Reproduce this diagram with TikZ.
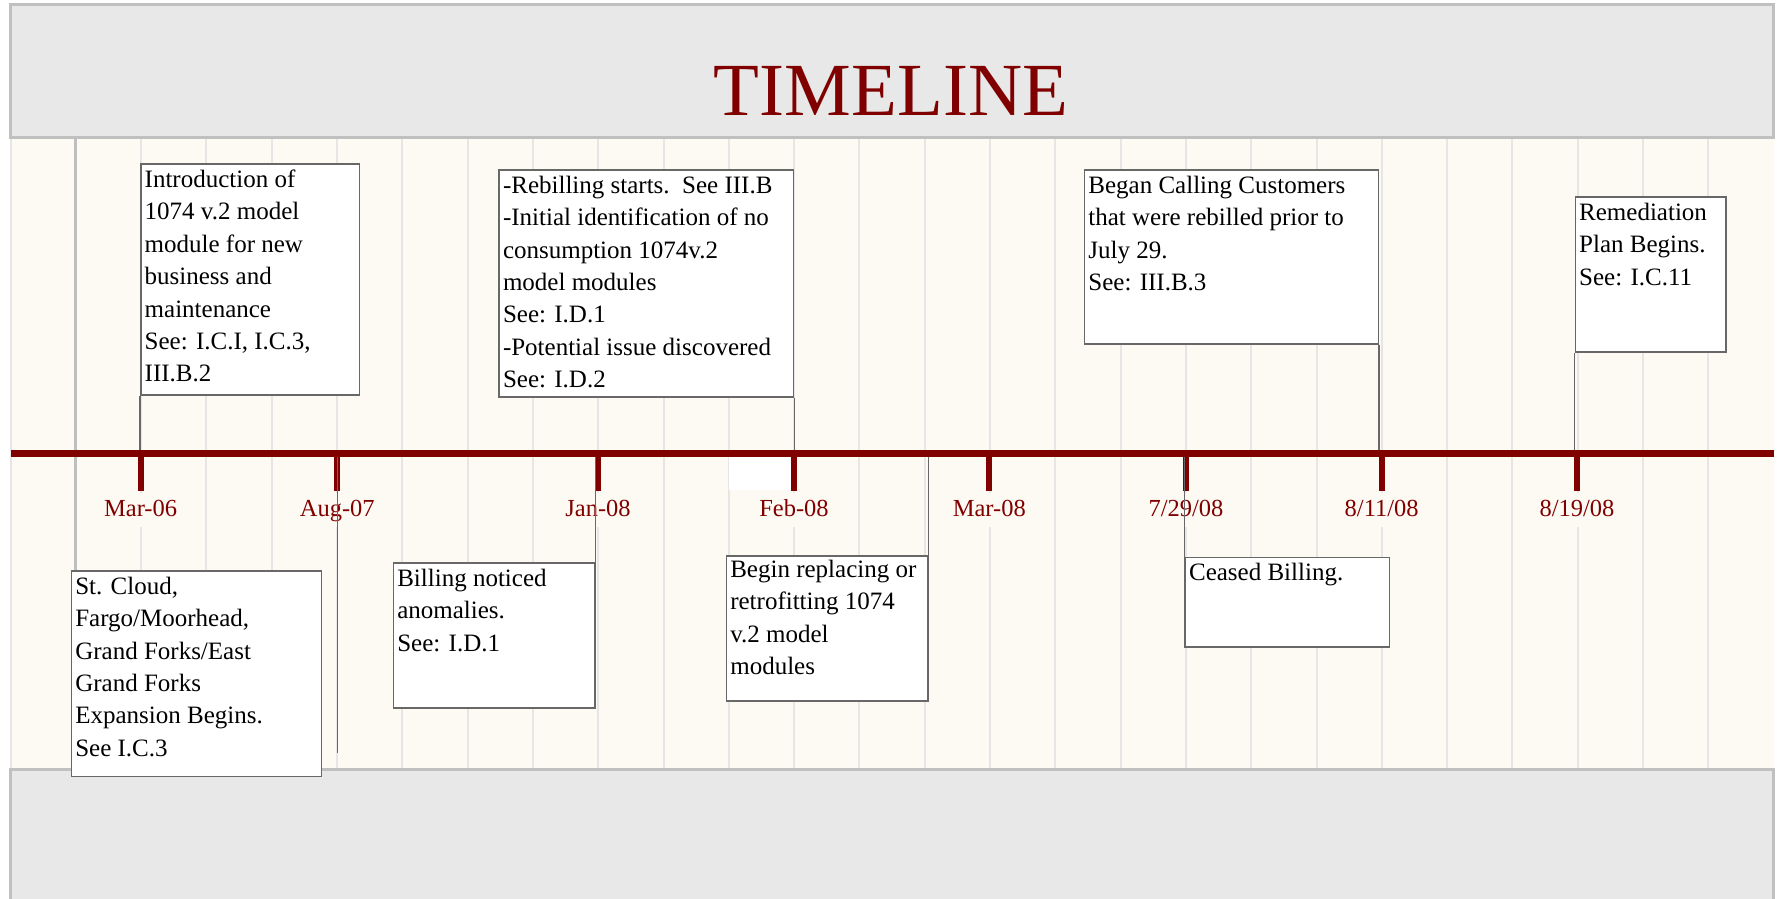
\documentclass[tikz,border=0pt]{standalone}
\usepackage{fontspec}
\setmainfont{Liberation Serif}
\definecolor{myred}{HTML}{800000}
\definecolor{cream}{HTML}{FDFAF3}
\definecolor{hdrgray}{HTML}{E8E8E8}
\definecolor{hdrborder}{HTML}{C0C0C0}
\definecolor{stripegray}{HTML}{E6E6E6}
\definecolor{darkstripe}{HTML}{BFBFBF}
\definecolor{boxgray}{HTML}{686868}
\begin{document}
\begin{tikzpicture}[x=1pt,y=-1pt,
  box/.style={draw=boxgray, line width=1.5pt, fill=white, inner sep=0pt, anchor=north west},
  boxtext/.style={anchor=north west, inner sep=0pt, align=left, font=\fontsize{25}{32.4}\selectfont},
  datelabel/.style={fill=cream, text=myred, font=\fontsize{24.5}{28}\selectfont, minimum width=100pt, minimum height=34pt, inner sep=0pt, text height=17pt, text depth=5pt},
  conn/.style={draw=boxgray, line width=1.5pt},
  stripe/.style={draw=stripegray, line width=2pt},
  tickmark/.style={draw=myred, line width=6pt},
  frameline/.style={draw=hdrborder, line width=3pt}]
\useasboundingbox (0,0) rectangle (1782,899);
% cream band
\fill[cream] (10.5,137) rectangle (1773.5,769);
% stripes
\foreach \k in {0,2,3,...,26} {
  \draw[stripe] (10.5+65.3*\k,137) -- (10.5+65.3*\k,769);
}
\draw[draw=darkstripe, line width=3pt] (75.8,137) -- (75.8,769);
% header and footer
\draw[frameline, fill=hdrgray] (10.5,5) rectangle (1773.5,137);
\fill[hdrgray] (10.5,769) rectangle (1773.5,905);
\draw[frameline] (10.5,905) -- (10.5,769) -- (1773.5,769) -- (1773.5,905);
% title
\node[text=myred, font=\fontsize{75}{80}\selectfont, anchor=base, inner sep=0pt] (title) at (891,115) {TIMELINE};
% white patch
\fill[white] (729,456) rectangle (790.7,490);
% timeline bar
\coordinate (barL) at (10.5,453.3);
\coordinate (barR) at (1773.5,453.3);
\coordinate (bartop) at (0,450);
\coordinate (barbot) at (0,456.7);
\draw[draw=myred, line width=6.7pt] (barL) -- (barR);
% ticks
\foreach \n/\x in {1/140.6,2/337.3,3/598,4/794,5/989.3,6/1186,7/1381.7,8/1577} {
  \coordinate (k\n) at (\x,453.3);
  \draw[tickmark] (k\n) -- (\x,491);
}
% date labels
\node[datelabel] (l1) at (140.6,510) {Mar-06};
\node[datelabel] (l2) at (337.3,510) {Aug-07};
\node[datelabel] (l3) at (598,510) {Jan-08};
\node[datelabel] (l4) at (794,510) {Feb-08};
\node[datelabel] (l5) at (989.3,510) {Mar-08};
\node[datelabel] (l6) at (1186,510) {7/29/08};
\node[datelabel] (l7) at (1381.7,510) {8/11/08};
\node[datelabel] (l8) at (1577,510) {8/19/08};
% boxes
\node[box, minimum width=218.8pt, minimum height=230.7pt] (A) at (140,163.3) {};
\node[box, minimum width=294.5pt, minimum height=227pt] (B) at (498.3,169) {};
\node[box, minimum width=294pt, minimum height=174pt] (C) at (1083.7,169) {};
\node[box, minimum width=150.7pt, minimum height=155pt] (D) at (1574.5,196) {};
\coordinate (eend) at (337.5,752.7);
% connectors
\draw[conn] (A.south west) -- (A.south west |- bartop);
\draw[conn] (B.south east) -- (B.south east |- bartop);
\draw[conn] (C.south east) -- (C.south east |- bartop);
\draw[conn] (D.south west) -- (D.south west |- bartop);
\draw[conn] (eend |- barbot) -- (eend);
\node[box, minimum width=250.3pt, minimum height=205.7pt] (E) at (70.6,570) {};
\node[box, minimum width=201.6pt, minimum height=145pt] (F) at (392.6,562.3) {};
\node[box, minimum width=201.6pt, minimum height=145pt] (G) at (725.6,555) {};
\node[box, minimum width=204.2pt, minimum height=89.3pt] (H) at (1184.4,556.7) {};
\draw[conn] (F.north east |- barbot) -- (F.north east);
\draw[conn] (G.north east |- barbot) -- (G.north east);
\draw[conn] (H.north west |- barbot) -- (H.north west);
% box texts
\node[boxtext] (At) at ([shift={(4.5pt,-4pt)}]A.north west) {\rule{0pt}{20pt}Introduction of\\1074 v.2 model\\module for new\\business and\\maintenance\\See: I.C.I, I.C.3,\\III.B.2};
\node[boxtext] (Bt) at ([shift={(4.5pt,-4pt)}]B.north west) {\rule{0pt}{20pt}-Rebilling starts.\ \ See III.B\\-Initial identification of no\\consumption 1074v.2\\model modules\\See: I.D.1\\-Potential issue discovered\\See: I.D.2};
\node[boxtext] (Ct) at ([shift={(4.5pt,-4pt)}]C.north west) {\rule{0pt}{20pt}Began Calling Customers\\that were rebilled prior to\\July 29.\\See: III.B.3};
\node[boxtext] (Dt) at ([shift={(4.5pt,-4pt)}]D.north west) {\rule{0pt}{20pt}Remediation\\Plan Begins.\\See: I.C.11};
\node[boxtext] (Et) at ([shift={(4.5pt,-4pt)}]E.north west) {\rule{0pt}{20pt}St. Cloud,\\Fargo/Moorhead,\\Grand Forks/East\\Grand Forks\\Expansion Begins.\\See I.C.3};
\node[boxtext] (Ft) at ([shift={(4.5pt,-4pt)}]F.north west) {\rule{0pt}{20pt}Billing noticed\\anomalies.\\See: I.D.1};
\node[boxtext] (Gt) at ([shift={(4.5pt,-2pt)}]G.north west) {\rule{0pt}{20pt}Begin replacing or\\retrofitting 1074\\v.2 model\\modules};
\node[boxtext] (Ht) at ([shift={(4.5pt,-4pt)}]H.north west) {\rule{0pt}{20pt}Ceased Billing.};
\end{tikzpicture}
\end{document}
